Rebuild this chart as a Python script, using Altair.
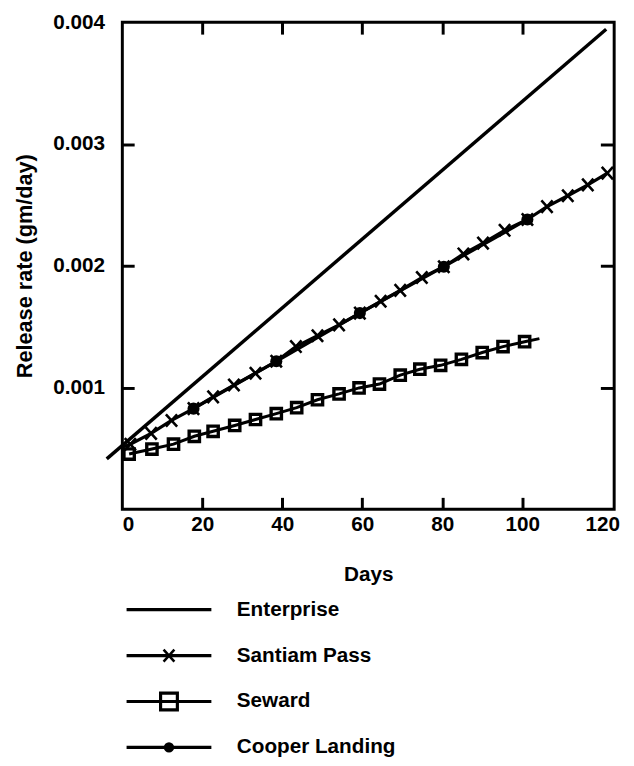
import altair as alt
import pandas as pd

# ---------------- data ----------------
ent_days = [-3.9, 121.0]
ent_rate = [0.000413, 0.003943]

sant_line_start_day = 0.0
sant_line_start_rate = 0.000510
sant_days = [2.0, 7.2, 12.3, 17.8, 22.7, 27.9, 33.3, 38.5, 43.4, 48.8, 54.2, 59.4,
             64.6, 69.5, 74.9, 80.4, 85.3, 90.2, 95.6, 101.3, 106.2, 111.4, 116.4, 121.3]
sant_rate = [0.000534, 0.000623, 0.000729, 0.000826, 0.000923, 0.001020, 0.001117,
             0.001215, 0.001336, 0.001425, 0.001514, 0.001611, 0.001708, 0.001798,
             0.001903, 0.001992, 0.002097, 0.002186, 0.002291, 0.002380, 0.002486,
             0.002575, 0.002664, 0.002761]

seward_days = [1.7, 7.4, 12.8, 18.0, 22.7, 28.1, 33.3, 38.5, 43.6, 48.8, 54.2, 59.2,
               64.3, 69.5, 74.4, 79.6, 84.8, 90.0, 95.2, 100.6]
seward_rate = [0.000453, 0.000494, 0.000534, 0.000599, 0.000640, 0.000688, 0.000737,
               0.000785, 0.000834, 0.000899, 0.000947, 0.000996, 0.001028, 0.001101,
               0.001150, 0.001182, 0.001231, 0.001287, 0.001336, 0.001376]
seward_line_end_day = 104.3
seward_line_end_rate = 0.001401

cooper_days = [17.8, 38.5, 59.4, 80.4, 101.3]
cooper_rate = [0.000826, 0.001215, 0.001611, 0.001992, 0.002380]

x_tick_labels = [0, 20, 40, 60, 80, 100, 120]
x_inner_ticks = [20, 40, 60, 80, 100]
y_tick_labels = [0.001, 0.002, 0.003, 0.004]
y_inner_ticks = [0.001, 0.002, 0.003]

legend_names = ["Enterprise", "Santiam Pass", "Seward", "Cooper Landing"]
legend_marker = ["none", "x", "square", "dot"]

# ---------------- tables ----------------
df_ent = pd.DataFrame({"day": ent_days, "rate": ent_rate})
df_sant_line = pd.DataFrame({"day": [sant_line_start_day] + sant_days,
                             "rate": [sant_line_start_rate] + sant_rate})
df_sant_pts = pd.DataFrame({"day": sant_days, "rate": sant_rate})
df_sew_line = pd.DataFrame({"day": seward_days + [seward_line_end_day],
                            "rate": seward_rate + [seward_line_end_rate]})
df_sew_pts = pd.DataFrame({"day": seward_days, "rate": seward_rate})
df_coop = pd.DataFrame({"day": cooper_days, "rate": cooper_rate})

FONT = "Liberation Sans"
W, H = 499, 494
XPATH = "M-1,-1.1L1,1.1M-1,1.1L1,-1.1"

xs = alt.Scale(domain=[0, 123], nice=False, zero=False)
ys = alt.Scale(domain=[0, 0.004], nice=False, zero=False)

ax_x_main = alt.Axis(orient="bottom", values=x_tick_labels, title="Days", ticks=False,
                     tickSize=0, domain=False, grid=False, labelFlush=True,
                     labelFont=FONT, labelFontSize=21, labelFontWeight="bold",
                     labelColor="black", labelPadding=5,
                     titleFont=FONT, titleFontSize=21, titleFontWeight="bold",
                     titleColor="black", titlePadding=29)
ax_y_main = alt.Axis(orient="left", values=y_tick_labels, format=".3f",
                     title="Release rate (gm/day)", ticks=False, tickSize=0,
                     domain=False, grid=False, labelFlush=False,
                     labelFont=FONT, labelFontSize=21, labelFontWeight="bold",
                     labelColor="black", labelPadding=18,
                     titleFont=FONT, titleFontSize=22, titleFontWeight="bold",
                     titleColor="black", titlePadding=17)


def inner_axis(orient, offset, values, size):
    return alt.Axis(orient=orient, offset=offset, values=values, labels=False,
                    domain=False, grid=False, ticks=True, tickSize=size,
                    tickWidth=3, tickColor="black", title=None)


ax_x_in_bottom = inner_axis("top", -H, x_inner_ticks, 12)
ax_x_in_top = inner_axis("bottom", -H, x_inner_ticks, 12)
ax_y_in_left = inner_axis("right", -W, y_inner_ticks, 12)
ax_y_in_right = inner_axis("left", -W, y_inner_ticks, 14)


def xy(xa, ya):
    return dict(x=alt.X("day:Q", scale=xs, axis=xa),
                y=alt.Y("rate:Q", scale=ys, axis=ya))


l_ent = alt.Chart(df_ent).mark_line(color="black", strokeWidth=3.5).encode(
    **xy(ax_x_main, ax_y_main))
l_sant = alt.Chart(df_sant_line).mark_line(color="black", strokeWidth=3.2).encode(
    **xy(ax_x_in_bottom, ax_y_in_left))
l_sew = alt.Chart(df_sew_line).mark_line(color="black", strokeWidth=3).encode(
    **xy(ax_x_in_top, ax_y_in_right))
p_sant = alt.Chart(df_sant_pts).mark_point(shape=XPATH, size=130, color="black",
                                           strokeWidth=2.6, filled=False, opacity=1).encode(
    **xy(None, None))
p_sew = alt.Chart(df_sew_pts).mark_point(shape="square", size=110, color="black",
                                         strokeWidth=3.4, filled=False, opacity=1).encode(
    **xy(None, None))
l_coop = alt.Chart(df_coop).mark_line(color="black", strokeWidth=3.2).encode(
    **xy(None, None))
p_coop = alt.Chart(df_coop).mark_point(shape="circle", size=150, color="black",
                                       filled=True, opacity=1).encode(
    **xy(None, None))

main = alt.layer(l_ent, l_sant, l_sew, p_sant, p_sew, l_coop, p_coop).resolve_scale(
    x="independent", y="independent"
).properties(width=W, height=H,
             view=alt.ViewBackground(stroke="black", strokeWidth=3))

# ---------------- legend (drawn as a small chart) ----------------
leg_rows = list(range(len(legend_names)))
df_leg_line = pd.DataFrame({
    "name": [n for n in legend_names for _ in (0, 1)],
    "row": [r for r in leg_rows for _ in (0, 1)],
    "pos": [p for _ in legend_names for p in (0.0, 1.0)],
})
df_leg_mark = pd.DataFrame({"name": legend_names, "row": leg_rows,
                            "marker": legend_marker, "pos": 0.5})
df_leg_text = pd.DataFrame({"name": legend_names, "row": leg_rows, "pos": 1.3})

lx = alt.Scale(domain=[-0.05, 5.75], nice=False, zero=False)
ly = alt.Scale(domain=[-0.45, 3.2], nice=False, zero=False, reverse=True)


def lxy():
    return dict(x=alt.X("pos:Q", scale=lx, axis=None),
                y=alt.Y("row:Q", scale=ly, axis=None))


leg_lines = alt.Chart(df_leg_line).mark_line(color="black", strokeWidth=3.2).encode(
    detail="name:N", **lxy())
leg_x = alt.Chart(df_leg_mark).transform_filter(alt.datum.marker == "x").mark_point(
    shape=XPATH, size=120, color="black", strokeWidth=2.6, filled=False, opacity=1
).encode(**lxy())
leg_sq = alt.Chart(df_leg_mark).transform_filter(alt.datum.marker == "square").mark_point(
    shape="square", size=290, color="black", strokeWidth=3.2, filled=False, opacity=1
).encode(**lxy())
leg_dot = alt.Chart(df_leg_mark).transform_filter(alt.datum.marker == "dot").mark_point(
    shape="circle", size=110, color="black", filled=True, opacity=1
).encode(**lxy())
leg_text = alt.Chart(df_leg_text).mark_text(
    align="left", baseline="middle", font=FONT, fontSize=21, fontWeight="bold",
    color="black"
).encode(text="name:N", **lxy())

legend = alt.layer(leg_lines, leg_x, leg_sq, leg_dot, leg_text).properties(
    width=W, height=170)

chart = alt.vconcat(main, legend, spacing=81, bounds="flush").properties(
    padding={"left": 3, "top": -4, "right": 5, "bottom": 0}
).configure(font=FONT).configure_view(stroke=None)

chart.save("out.html", embed_options={"renderer": "svg", "actions": False})
